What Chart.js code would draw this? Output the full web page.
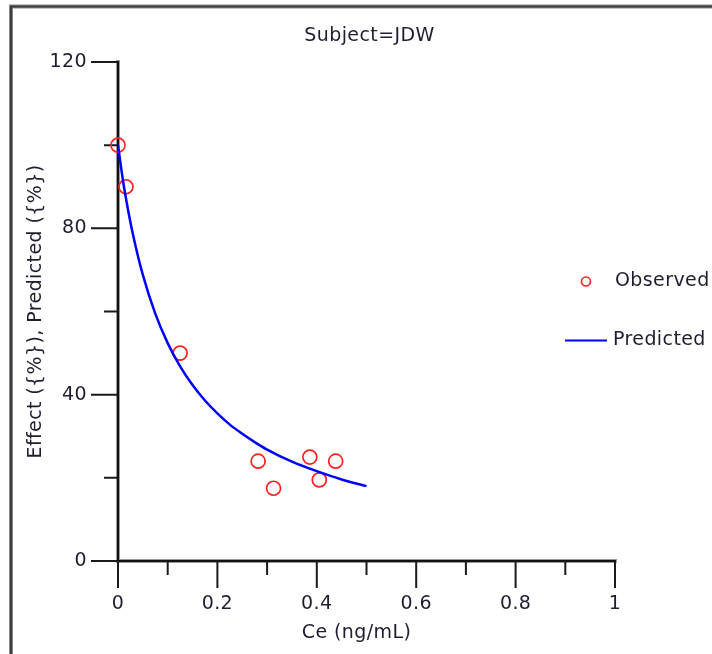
<!DOCTYPE html>
<html>
<head>
<meta charset="utf-8">
<title>Subject=JDW</title>
<script src="https://cdn.jsdelivr.net/npm/chart.js@4.4.1/dist/chart.umd.min.js"></script>
<style>
  html, body { margin: 0; padding: 0; background: #ffffff; }
  #wrap { width: 712px; height: 654px; }
  canvas { display: block; }
</style>
</head>
<body>
<div id="wrap"><canvas id="c" width="712" height="654"></canvas></div>
<script>
// Labels
const subjectTitle = 'Subject=JDW';
const xAxisTitle = 'Ce (ng/mL)';
const yAxisTitle = 'Effect ({%}), Predicted ({%})';
const observedLabel = 'Observed';
const predictedLabel = 'Predicted';

// Observed effect vs. effect-site concentration
const observedCe = [0, 0.016, 0.125, 0.282, 0.313, 0.386, 0.405, 0.438];
const observedEffect = [100, 90, 50, 24, 17.5, 25, 19.5, 24];

// Model-predicted effect curve
const predictedCe = [0, 0.01, 0.02, 0.03, 0.05, 0.075, 0.1, 0.125, 0.15, 0.175, 0.2, 0.225, 0.25, 0.275, 0.3, 0.35, 0.4, 0.45, 0.5];
const predictedEffect = [100, 91.5, 84.6, 78.6, 68.8, 59.5, 52.4, 46.8, 42.3, 38.6, 35.5, 32.8, 30.6, 28.6, 26.8, 23.9, 21.6, 19.6, 18.0];

// Axis ticks
const xTicks = [0, 0.2, 0.4, 0.6, 0.8, 1];
const xMinorTicks = [0.1, 0.3, 0.5, 0.7, 0.9];
const yTicks = [0, 40, 80, 120];
const yMinorTicks = [20, 60, 100];

const FONT = '"DejaVu Sans", Verdana, sans-serif';
const FONT_SIZE = 19;
const LETTER_SPACING = '0.4px';
const TEXT_COLOR = '#1e1e30';

const observedPoints = observedCe.map((x, i) => ({ x, y: observedEffect[i] }));
const predictedPoints = predictedCe.map((x, i) => ({ x, y: predictedEffect[i] }));

// Frame, axes with major/minor ticks, titles and legend
const decorations = {
  id: 'decorations',
  beforeDraw(chart) {
    const ctx = chart.ctx;
    // slightly wider tracking for every label drawn on this canvas
    ctx.letterSpacing = LETTER_SPACING;
    ctx.save();
    ctx.fillStyle = '#ffffff';
    ctx.fillRect(0, 0, chart.width, chart.height);
    // outer frame
    ctx.strokeStyle = '#8a8a8a';
    ctx.lineWidth = 4;
    ctx.strokeRect(11, 6.5, chart.width + 20, chart.height + 20);
    ctx.strokeStyle = '#3c3c3c';
    ctx.lineWidth = 2;
    ctx.strokeRect(11, 6.5, chart.width + 20, chart.height + 20);
    ctx.restore();
  },
  beforeDatasetsDraw(chart) {
    const ctx = chart.ctx;
    const xs = chart.scales.x, ys = chart.scales.y;
    const a = chart.chartArea;
    const x0 = xs.getPixelForValue(0);
    const y0 = ys.getPixelForValue(0);
    ctx.save();
    // axis lines
    ctx.lineCap = 'square';
    ctx.strokeStyle = '#9a9a9a';
    ctx.lineWidth = 4;
    ctx.beginPath();
    ctx.moveTo(x0, a.top); ctx.lineTo(x0, y0); ctx.lineTo(a.right, y0);
    ctx.stroke();
    ctx.strokeStyle = '#111111';
    ctx.lineWidth = 2;
    ctx.beginPath();
    ctx.moveTo(x0, a.top); ctx.lineTo(x0, y0); ctx.lineTo(a.right, y0);
    ctx.stroke();
    // ticks
    ctx.lineCap = 'butt';
    ctx.strokeStyle = '#1a1a1a';
    ctx.lineWidth = 2;
    ctx.beginPath();
    xTicks.forEach(v => { const p = xs.getPixelForValue(v); ctx.moveTo(p, y0); ctx.lineTo(p, y0 + 27); });
    xMinorTicks.forEach(v => { const p = xs.getPixelForValue(v); ctx.moveTo(p, y0); ctx.lineTo(p, y0 + 14); });
    yTicks.forEach(v => { const p = ys.getPixelForValue(v); ctx.moveTo(x0, p); ctx.lineTo(x0 - 27, p); });
    yMinorTicks.forEach(v => { const p = ys.getPixelForValue(v); ctx.moveTo(x0, p); ctx.lineTo(x0 - 14, p); });
    ctx.stroke();
    ctx.restore();
  },
  afterDraw(chart) {
    const ctx = chart.ctx;
    const a = chart.chartArea;
    ctx.save();
    ctx.fillStyle = TEXT_COLOR;
    ctx.font = FONT_SIZE + 'px ' + FONT;
    ctx.textBaseline = 'middle';
    ctx.textAlign = 'center';
    // chart title
    ctx.fillText(subjectTitle, (a.left + a.right) / 2 + 3, 36);
    // x axis title
    ctx.fillText(xAxisTitle, (a.left + a.right) / 2 - 10, 633);
    // y axis title
    ctx.save();
    ctx.translate(36, (a.top + a.bottom) / 2);
    ctx.rotate(-Math.PI / 2);
    ctx.fillText(yAxisTitle, 0, 0);
    ctx.restore();
    // legend
    const obs = chart.data.datasets[1];
    const pred = chart.data.datasets[0];
    ctx.strokeStyle = obs.borderColor;
    ctx.lineWidth = 1.6;
    ctx.beginPath();
    ctx.arc(586, 281.5, 4.5, 0, Math.PI * 2);
    ctx.stroke();
    ctx.strokeStyle = pred.borderColor;
    ctx.lineWidth = 2;
    ctx.beginPath();
    ctx.moveTo(565, 340.5); ctx.lineTo(607, 340.5);
    ctx.stroke();
    ctx.textAlign = 'left';
    ctx.fillText(observedLabel, 615, 281);
    ctx.fillText(predictedLabel, 613, 340);
    ctx.restore();
  }
};

new Chart(document.getElementById('c'), {
  type: 'scatter',
  data: {
    datasets: [
      {
        label: predictedLabel,
        data: predictedPoints,
        showLine: true,
        borderColor: '#0000ff',
        borderWidth: 2.5,
        pointRadius: 0,
        pointHoverRadius: 0,
        cubicInterpolationMode: 'monotone',
        fill: false
      },
      {
        label: observedLabel,
        data: observedPoints,
        showLine: false,
        pointStyle: 'circle',
        pointRadius: 7,
        pointBorderWidth: 1.7,
        borderColor: '#ff2020',
        pointBorderColor: '#ff2020',
        pointBackgroundColor: 'rgba(0,0,0,0)',
        backgroundColor: 'rgba(0,0,0,0)',
        clip: false
      }
    ]
  },
  options: {
    responsive: false,
    devicePixelRatio: 1,
    animation: false,
    layout: { padding: { left: 0, top: 62, right: 97, bottom: 0 } },
    plugins: { legend: { display: false }, title: { display: false }, tooltip: { enabled: false } },
    scales: {
      x: {
        type: 'linear',
        min: 0,
        max: 1,
        grid: { display: false, drawTicks: false },
        border: { display: false },
        afterBuildTicks: s => { s.ticks = xTicks.map(v => ({ value: v })); },
        afterFit: s => { s.height = 93; },
        ticks: {
          autoSkip: false,
          maxRotation: 0,
          padding: 32,
          color: TEXT_COLOR,
          font: { family: FONT, size: FONT_SIZE },
          callback: v => String(v)
        }
      },
      y: {
        type: 'linear',
        min: 0,
        max: 120,
        grid: { display: false, drawTicks: false },
        border: { display: false },
        afterBuildTicks: s => { s.ticks = yTicks.map(v => ({ value: v })); },
        afterFit: s => { s.width = 118; },
        ticks: {
          autoSkip: false,
          padding: 31,
          color: TEXT_COLOR,
          font: { family: FONT, size: FONT_SIZE },
          callback: v => String(v)
        }
      }
    }
  },
  plugins: [decorations]
});
</script>
</body>
</html>
